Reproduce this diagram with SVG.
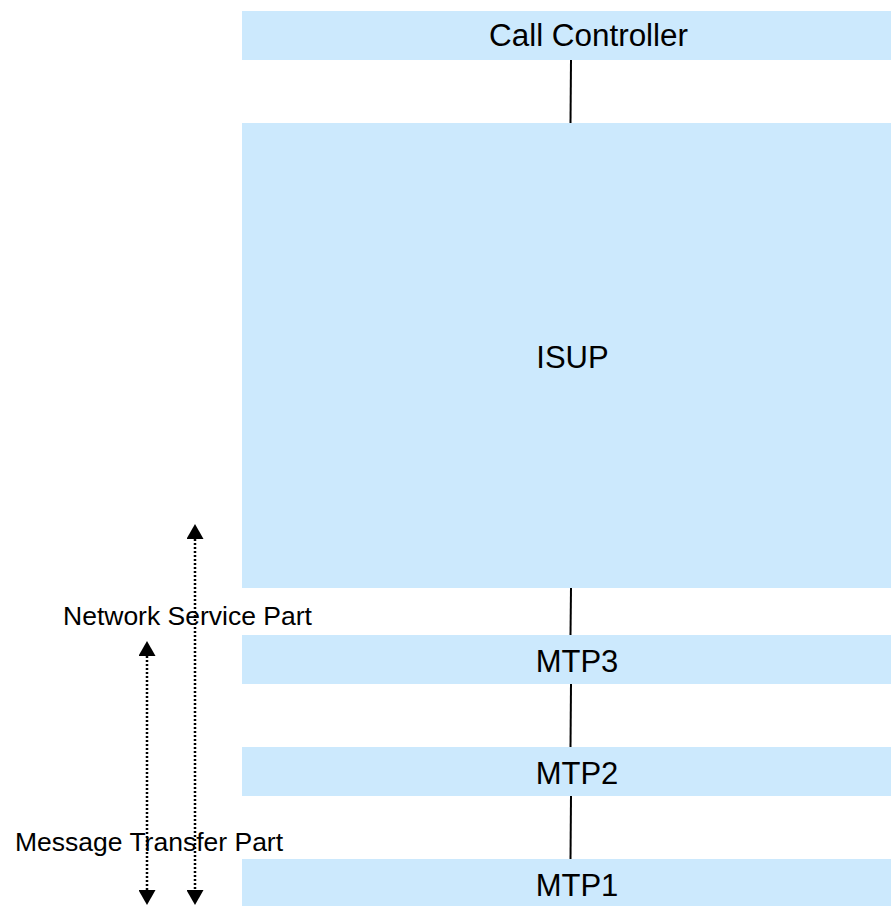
<svg xmlns="http://www.w3.org/2000/svg" width="891" height="906" viewBox="0 0 891 906">
<style>
.box{fill:#cce9fd;stroke:none}
.lbl{font-family:"Liberation Sans",Arial,sans-serif;font-size:31px;fill:#000}
.side{font-family:"Liberation Sans",Arial,sans-serif;font-size:26.5px;fill:#000}
.conn{stroke:#000;stroke-width:2;fill:none}
.dot{stroke:#000;stroke-width:2.5;stroke-dasharray:2 2;fill:none}
</style>
<defs>
<marker id="ah" markerUnits="userSpaceOnUse" markerWidth="15" markerHeight="17" refX="0" refY="8.5" orient="auto-start-reverse" viewBox="0 0 15 17">
<path d="M0,0 L15,8.5 L0,17 z" fill="#000"/>
</marker>
</defs>
<rect width="891" height="906" fill="#fff"/>
<g id="call-controller">
<rect class="box" x="242" y="11" width="649" height="49"/>
<text class="lbl" x="489" y="46" textLength="199" lengthAdjust="spacingAndGlyphs">Call Controller</text>
</g>
<g id="isup">
<rect class="box" x="242" y="123" width="649" height="465"/>
<text class="lbl" x="572.5" y="368" text-anchor="middle">ISUP</text>
</g>
<g id="mtp3">
<rect class="box" x="242" y="635" width="649" height="49"/>
<text class="lbl" x="577" y="672" text-anchor="middle">MTP3</text>
</g>
<g id="mtp2">
<rect class="box" x="242" y="747" width="649" height="49"/>
<text class="lbl" x="577" y="784" text-anchor="middle">MTP2</text>
</g>
<g id="mtp1">
<rect class="box" x="242" y="859" width="649" height="47"/>
<text class="lbl" x="577" y="896" text-anchor="middle">MTP1</text>
</g>
<g id="connectors">
<line class="conn" x1="571" y1="60" x2="570.5" y2="123"/>
<line class="conn" x1="571" y1="588" x2="570.5" y2="635"/>
<line class="conn" x1="571" y1="684" x2="570.5" y2="747"/>
<line class="conn" x1="571" y1="796" x2="570.5" y2="859"/>
<line class="dot" x1="195" y1="539" x2="195" y2="890" marker-start="url(#ah)" marker-end="url(#ah)"/>
<line class="dot" x1="147" y1="656" x2="147" y2="890" marker-start="url(#ah)" marker-end="url(#ah)"/>
</g>
<g id="labels">
<text class="side" x="63" y="625">Network Service Part</text>
<text class="side" x="15" y="851">Message Transfer Part</text>
</g>
</svg>
